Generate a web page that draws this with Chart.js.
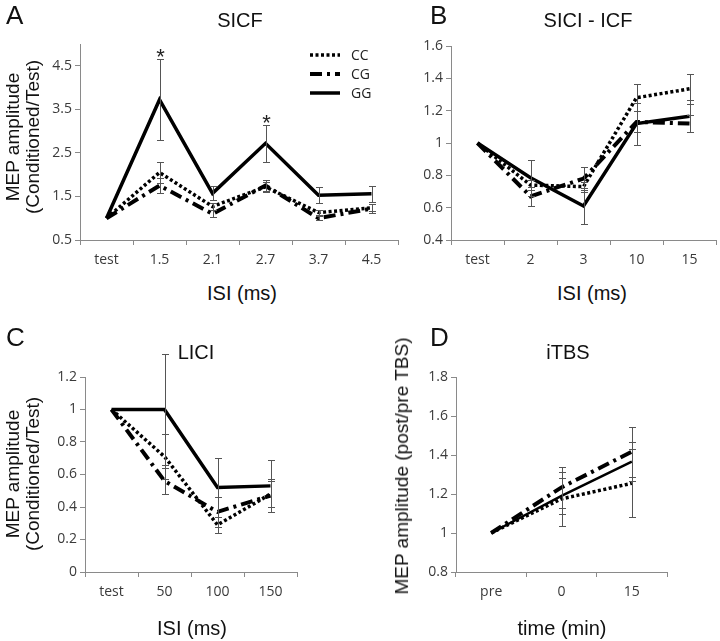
<!DOCTYPE html>
<html>
<head>
<meta charset="utf-8">
<script src="https://cdn.jsdelivr.net/npm/chart.js@4.4.0/dist/chart.umd.min.js"></script>
<style>
  body { margin: 0; background: #fff; }
  #fig { position: relative; width: 720px; height: 641px; overflow: hidden; background: #fff;
         font-family: 'Liberation Sans', Arial, sans-serif; color: #111; }
  canvas { position: absolute; }
  .txt { position: absolute; white-space: nowrap; line-height: 1; }
  .letter { font-size: 26px; }
  .title { font-size: 20px; transform: translateX(-50%); }
  .xtitle { font-size: 20px; transform: translateX(-50%); }
  .ytitle { font-size: 19px; line-height: 1.05; text-align: center; transform: translate(-50%, -50%) rotate(-90deg); }
</style>
</head>
<body>
<div id="fig">
  <canvas id="cA" width="410" height="280" style="left:0;top:0"></canvas>
  <canvas id="cB" width="310" height="280" style="left:410px;top:0"></canvas>
  <canvas id="cC" width="360" height="300" style="left:0;top:320px"></canvas>
  <canvas id="cD" width="360" height="300" style="left:360px;top:320px"></canvas>

  <div class="txt letter" style="left:6px;top:2px">A</div>
  <div class="txt title" style="left:240px;top:10px">SICF</div>
  <div class="txt ytitle" style="left:23px;top:137px">MEP amplitude<br>(Conditioned/Test)</div>
  <div class="txt xtitle" style="left:242px;top:283px">ISI (ms)</div>

  <div class="txt letter" style="left:430px;top:2px">B</div>
  <div class="txt title" style="left:588px;top:10px">SICI - ICF</div>
  <div class="txt xtitle" style="left:592px;top:283px">ISI (ms)</div>

  <div class="txt letter" style="left:6px;top:324px">C</div>
  <div class="txt title" style="left:196px;top:342px">LICI</div>
  <div class="txt ytitle" style="left:23px;top:474px">MEP amplitude<br>(Conditioned/Test)</div>
  <div class="txt xtitle" style="left:192px;top:618px">ISI (ms)</div>

  <div class="txt letter" style="left:430px;top:324px">D</div>
  <div class="txt title" style="left:568px;top:342px">iTBS</div>
  <div class="txt ytitle" style="left:402px;top:466px">MEP amplitude (post/pre TBS)</div>
  <div class="txt xtitle" style="left:562px;top:618px">time (min)</div>
</div>

<script>
/*               data                */

// A - SICF
const catsA = ['test', '1.5', '2.1', '2.7', '3.7', '4.5'];
const ccA = [1, 2.05, 1.27, 1.72, 1.13, 1.24];
const cgA = [1, 1.75, 1.10, 1.75, 1.00, 1.22];
const ggA = [1, 3.72, 1.57, 2.72, 1.53, 1.56];
const ccErrA = [0, 0.23, 0.08, 0.12, 0.06, 0.08];
const cgErrA = [0, 0.18, 0.08, 0.12, 0.05, 0.10];
const ggErrA = [0, 0.93, 0.16, 0.42, 0.19, 0.18];
const starsA = [false, true, false, true, false, false];
const ticksA = [0.5, 1.5, 2.5, 3.5, 4.5];

// B - SICI - ICF
const catsB = ['test', '2', '3', '10', '15'];
const ccB = [1, 0.74, 0.73, 1.28, 1.335];
const cgB = [1, 0.67, 0.78, 1.13, 1.12];
const ggB = [1, 0.785, 0.61, 1.12, 1.165];
const ccErrB = [0, 0.03, 0.03, 0.085, 0.092];
const cgErrB = [0, 0.06, 0.07, 0.065, 0.055];
const ggErrB = [0, 0.11, 0.11, 0.13, 0.10];
const ticksB = [0.4, 0.6, 0.8, 1, 1.2, 1.4, 1.6];

// C - LICI
const catsC = ['test', '50', '100', '150'];
const ccC = [1, 0.71, 0.29, 0.48];
const cgC = [1, 0.56, 0.37, 0.47];
const ggC = [1, 1.0, 0.52, 0.53];
const ccErrC = [0, 0.14, 0.05, 0.08];
const cgErrC = [0, 0.08, 0.09, 0.10];
const ggErrC = [0, 0.34, 0.18, 0.16];
const ticksC = [0, 0.2, 0.4, 0.6, 0.8, 1, 1.2];

// D - iTBS
const catsD = ['pre', '0', '15'];
const ccD = [1, 1.175, 1.255];
const cgD = [1, 1.234, 1.417];
const ggD = [1, 1.19, 1.366];
const ccErrD = [0, 0.14, 0.174];
const cgErrD = [0, 0.107, 0.128];
const ggErrD = [0, 0.09, 0.10];
const ticksD = [0.8, 1, 1.2, 1.4, 1.6, 1.8];

/*               shared styles                */

const axisGray = '#8a8a8a';
const tickText = '#3a3a3a';
const tickFont = { family: 'Open Sans', size: 14 };

// CC dotted, CG dash-dot, GG solid
function lineSets(cc, cg, gg, ccErr, cgErr, ggErr, ggWidth) {
    return [
        { label: 'CC', data: cc, errors: ccErr, borderDash: [3, 2.5], borderWidth: 3.5, order: 2 },
        { label: 'CG', data: cg, errors: cgErr, borderDash: [12, 5, 3, 5], borderWidth: 4, order: 1 },
        { label: 'GG', data: gg, errors: ggErr, borderDash: [], borderWidth: ggWidth || 3.5, order: 0 }
    ].map(d => Object.assign(d, { borderColor: '#000', pointRadius: 0, tension: 0, fill: false }));
}

/*               error bars + stars                */

const errorBars = {
    id: 'errorBars',
    afterDatasetsDraw(chart) {
        const ctx = chart.ctx;
        const y = chart.scales.y;
        ctx.save();
        ctx.strokeStyle = '#555';
        ctx.lineWidth = 1;
        ctx.fillStyle = '#222';
        ctx.font = '22px "Liberation Sans", Arial';
        ctx.textAlign = 'center';
        ctx.textBaseline = 'top';
        chart.data.datasets.forEach((ds, i) => {
            const meta = chart.getDatasetMeta(i);
            (ds.errors || []).forEach((e, j) => {
                if (!e) return;
                const x = Math.round(meta.data[j].x) + 0.5;
                const top = Math.round(y.getPixelForValue(ds.data[j] + e)) + 0.5;
                const bot = Math.round(y.getPixelForValue(ds.data[j] - e)) + 0.5;
                ctx.beginPath();
                ctx.moveTo(x, top); ctx.lineTo(x, bot);
                ctx.moveTo(x - 3.5, top); ctx.lineTo(x + 3.5, top);
                ctx.moveTo(x - 3.5, bot); ctx.lineTo(x + 3.5, bot);
                ctx.stroke();
                if (ds.stars && ds.stars[j]) {
                    ctx.fillText('*', x, top - 13);
                }
            });
        });
        ctx.restore();
    }
};

/*               legend with line samples                */

const lineLegend = {
    id: 'lineLegend',
    afterDraw(chart, args, opts) {
        if (!opts || !opts.show) return;
        const ctx = chart.ctx;
        ctx.save();
        ctx.font = '14px "Open Sans"';
        ctx.fillStyle = '#222';
        ctx.textBaseline = 'middle';
        chart.data.datasets.forEach((ds, i) => {
            const yy = opts.y + i * opts.gap;
            ctx.beginPath();
            ctx.strokeStyle = ds.borderColor;
            ctx.lineWidth = ds.borderWidth;
            ctx.setLineDash(ds.borderDash);
            ctx.moveTo(opts.x, yy);
            ctx.lineTo(opts.x + 30, yy);
            ctx.stroke();
            ctx.setLineDash([]);
            ctx.fillText(ds.label, opts.x + 41, yy + 1);
        });
        ctx.restore();
    }
};

function makeChart(id, cats, sets, yTicks, yMin, yMax, box, legend) {
    const cv = document.getElementById(id);
    return new Chart(cv.getContext('2d'), {
        type: 'line',
        data: { labels: cats, datasets: sets },
        plugins: [errorBars, lineLegend],
        options: {
            responsive: false,
            animation: false,
            devicePixelRatio: 1,
            layout: { padding: { left: 0, top: box.top, right: cv.width - box.right, bottom: cv.height - 30 - box.bottom } },
            plugins: {
                legend: { display: false },
                tooltip: { enabled: false },
                lineLegend: legend || { show: false }
            },
            scales: {
                x: {
                    offset: true,
                    grid: { offset: true, drawOnChartArea: false, tickLength: 5, color: axisGray },
                    border: { color: axisGray },
                    ticks: { color: tickText, font: tickFont, padding: 7, maxRotation: 0, autoSkip: false },
                    afterFit(s) { s.height = 30; }
                },
                y: {
                    min: yMin,
                    max: yMax,
                    afterBuildTicks(s) { s.ticks = yTicks.map(v => ({ value: v })); },
                    grid: { drawOnChartArea: false, tickLength: 5, color: axisGray },
                    border: { color: axisGray },
                    ticks: { color: tickText, font: tickFont, padding: 3, callback: v => String(v) },
                    afterFit(s) { s.width = box.left; }
                }
            }
        }
    });
}

/*               the four panels                */

const setsA = lineSets(ccA, cgA, ggA, ccErrA, cgErrA, ggErrA);
setsA[2].stars = starsA;
makeChart('cA', catsA, setsA, ticksA, 0.5, 5, { left: 80, top: 44, right: 398, bottom: 240 },
    { show: true, x: 310, y: 55, gap: 19 });

makeChart('cB', catsB, lineSets(ccB, cgB, ggB, ccErrB, cgErrB, ggErrB), ticksB, 0.4, 1.6,
    { left: 41, top: 46, right: 306, bottom: 240 });

makeChart('cC', catsC, lineSets(ccC, cgC, ggC, ccErrC, cgErrC, ggErrC), ticksC, 0, 1.2,
    { left: 85, top: 57, right: 297, bottom: 252 });

makeChart('cD', catsD, lineSets(ccD, cgD, ggD, ccErrD, cgErrD, ggErrD, 2.5), ticksD, 0.8, 1.8,
    { left: 96, top: 57, right: 307, bottom: 252 });
</script>
</body>
</html>
